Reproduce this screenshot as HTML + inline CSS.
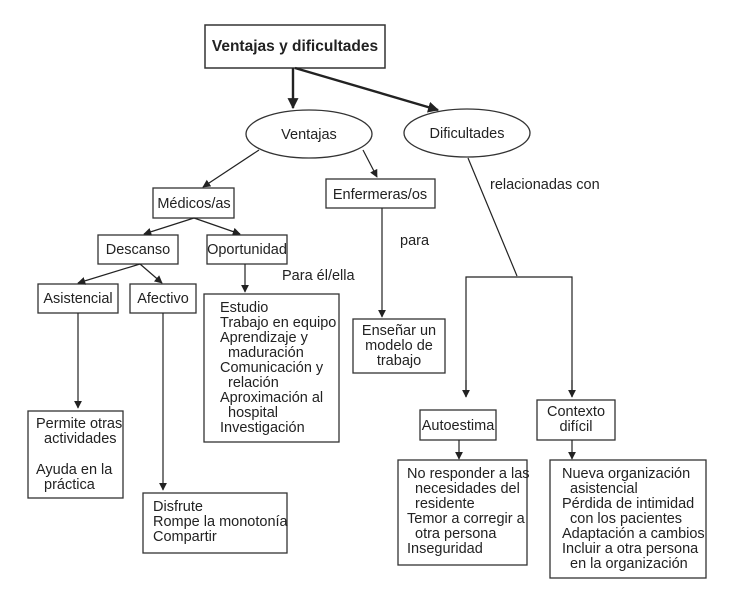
<!DOCTYPE html>
<html><head><meta charset="utf-8"><style>
html,body{margin:0;padding:0;background:#fff;}
svg text{font-family:"Liberation Sans Narrow","Liberation Sans",sans-serif;font-size:14.5px;fill:#222;}
</style></head><body>
<svg width="730" height="600" viewBox="0 0 730 600" xmlns="http://www.w3.org/2000/svg">
<defs>
<marker id="a" viewBox="0 0 10 10" refX="9" refY="5" markerWidth="8" markerHeight="8" orient="auto-start-reverse" markerUnits="userSpaceOnUse"><path d="M0,0 L10,5 L0,10 z" fill="#222"/></marker>
<marker id="b" viewBox="0 0 10 10" refX="9" refY="5" markerWidth="11" markerHeight="11" orient="auto" markerUnits="userSpaceOnUse"><path d="M0,0 L10,5 L0,10 z" fill="#222"/></marker>
</defs>
<g fill="none" stroke="#333" stroke-width="1.3">
<rect x="205" y="25" width="180" height="43" stroke-width="1.5"/>
<ellipse cx="309" cy="134" rx="63" ry="24"/>
<ellipse cx="467" cy="133" rx="63" ry="24"/>
<rect x="153" y="188" width="81" height="30"/>
<rect x="326" y="179" width="109" height="29"/>
<rect x="98" y="235" width="80" height="29"/>
<rect x="207" y="235" width="80" height="29"/>
<rect x="38" y="284" width="80" height="29"/>
<rect x="130" y="284" width="66" height="29"/>
<rect x="204" y="294" width="135" height="148"/>
<rect x="353" y="319" width="92" height="54"/>
<rect x="28" y="411" width="95" height="87"/>
<rect x="143" y="493" width="144" height="60"/>
<rect x="420" y="410" width="76" height="30"/>
<rect x="537" y="400" width="78" height="40"/>
<rect x="398" y="460" width="129" height="105"/>
<rect x="550" y="460" width="156" height="118"/>
</g>
<g stroke="#222" stroke-width="2.4" fill="none">
<line x1="293" y1="68" x2="293" y2="108" marker-end="url(#b)"/>
<line x1="295" y1="68" x2="438" y2="110" marker-end="url(#b)"/>
</g>
<g stroke="#222" stroke-width="1.2" fill="none">
<line x1="259" y1="150" x2="203" y2="187" marker-end="url(#a)"/>
<line x1="363" y1="150" x2="377" y2="177" marker-end="url(#a)"/>
<line x1="468" y1="158" x2="517" y2="276"/>
<polyline points="466,397 466,277 572,277 572,397"/>
<line x1="466" y1="380" x2="466" y2="397" marker-end="url(#a)"/>
<line x1="572" y1="380" x2="572" y2="397" marker-end="url(#a)"/>
<line x1="194" y1="218" x2="144" y2="234" marker-end="url(#a)"/>
<line x1="194" y1="218" x2="240" y2="234" marker-end="url(#a)"/>
<line x1="245" y1="264" x2="245" y2="292" marker-end="url(#a)"/>
<line x1="382" y1="208" x2="382" y2="317" marker-end="url(#a)"/>
<line x1="140" y1="264" x2="78" y2="283" marker-end="url(#a)"/>
<line x1="140" y1="264" x2="162" y2="283" marker-end="url(#a)"/>
<line x1="78" y1="313" x2="78" y2="408" marker-end="url(#a)"/>
<line x1="163" y1="313" x2="163" y2="490" marker-end="url(#a)"/>
<line x1="459" y1="440" x2="459" y2="459" marker-end="url(#a)"/>
<line x1="572" y1="440" x2="572" y2="459" marker-end="url(#a)"/>
</g>
<text x="295" y="51" text-anchor="middle" style="font-weight:bold;font-size:15.5px">Ventajas y dificultades</text>
<g text-anchor="middle">
<text x="309" y="139">Ventajas</text>
<text x="467" y="138">Dificultades</text>
<text x="194" y="208">Médicos/as</text>
<text x="380" y="199">Enfermeras/os</text>
<text x="138" y="254">Descanso</text>
<text x="247" y="254">Oportunidad</text>
<text x="78" y="303">Asistencial</text>
<text x="163" y="303">Afectivo</text>
<text x="399" y="335">Enseñar un</text>
<text x="399" y="350">modelo de</text>
<text x="399" y="365">trabajo</text>
<text x="458" y="430">Autoestima</text>
<text x="576" y="416">Contexto</text>
<text x="576" y="431">difícil</text>
</g>
<text x="490" y="189">relacionadas con</text>
<text x="400" y="245">para</text>
<text x="282" y="280">Para él/ella</text>
<g>
<text x="220" y="312">Estudio</text>
<text x="220" y="327">Trabajo en equipo</text>
<text x="220" y="342">Aprendizaje y</text>
<text x="228" y="357">maduración</text>
<text x="220" y="372">Comunicación y</text>
<text x="228" y="387">relación</text>
<text x="220" y="402">Aproximación al</text>
<text x="228" y="417">hospital</text>
<text x="220" y="432">Investigación</text>
<text x="36" y="428">Permite otras</text>
<text x="44" y="443">actividades</text>
<text x="36" y="474">Ayuda en la</text>
<text x="44" y="489">práctica</text>
<text x="153" y="511">Disfrute</text>
<text x="153" y="526">Rompe la monotonía</text>
<text x="153" y="541">Compartir</text>
<text x="407" y="478">No responder a las</text>
<text x="415" y="493">necesidades del</text>
<text x="415" y="508">residente</text>
<text x="407" y="523">Temor a corregir a</text>
<text x="415" y="538">otra persona</text>
<text x="407" y="553">Inseguridad</text>
<text x="562" y="478">Nueva organización</text>
<text x="570" y="493">asistencial</text>
<text x="562" y="508">Pérdida de intimidad</text>
<text x="570" y="523">con los pacientes</text>
<text x="562" y="538">Adaptación a cambios</text>
<text x="562" y="553">Incluir a otra persona</text>
<text x="570" y="568">en la organización</text>
</g>
</svg>
</body></html>
